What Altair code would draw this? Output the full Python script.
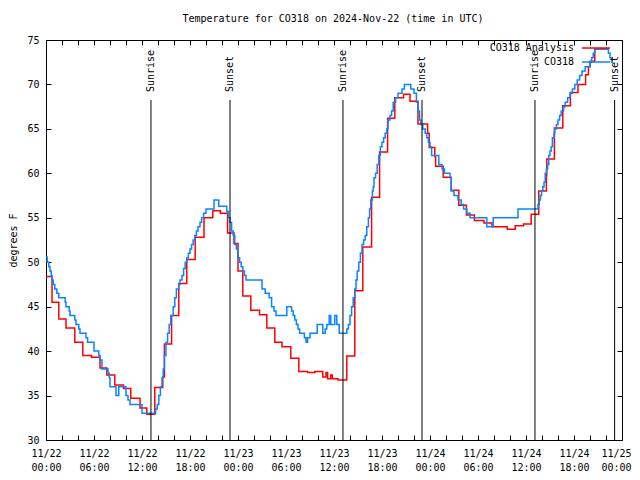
import altair as alt
import pandas as pd

MONO = "DejaVu Sans Mono"
RED = "#ff0000"
BLUE = "#0a84ff"

TITLE = "Temperature for CO318 on 2024-Nov-22 (time in UTC)"

# Hours since 2024-11-22 00:00 UTC; value holds until the next time (step-after)
ana_hours = [0.0, 0.75, 1.6, 2.5, 3.6, 4.6, 5.7, 6.75, 7.6, 8.6, 9.7, 10.6, 11.75, 12.6,
             13.6, 14.6, 14.8, 15.7, 16.6, 17.6, 18.65, 19.75, 20.85, 21.8, 22.7, 23.5,
             24.0, 24.6, 25.6, 26.7, 27.6, 28.6, 29.5, 30.6, 31.6, 32.7, 33.6, 34.6, 35.0,
             35.2, 35.6, 35.8, 36.5, 37.6, 38.6, 39.6, 40.7, 41.7, 42.7, 43.6, 44.7, 45.5,
             46.5, 47.7, 47.9, 48.6, 48.7, 49.65, 50.65, 51.6, 52.55, 53.55, 54.75, 55.75,
             57.65, 58.65, 59.7, 60.65, 61.6, 62.55, 62.6, 63.55, 64.6, 65.55, 66.5, 67.45,
             67.8, 68.0, 68.6, 70.3]
ana_temps = [48.4, 45.5, 43.6, 42.6, 41.0, 39.5, 39.3, 38.1, 37.3, 36.2, 35.8, 34.7, 33.6, 32.9,
             35.9, 37.1, 40.8, 44.0, 47.6, 50.3, 52.8, 55.0, 55.8, 55.5, 53.3, 52.1,
             49.0, 46.2, 44.6, 44.1, 42.6, 41.0, 40.5, 39.2, 37.7, 37.6, 37.7, 37.1, 37.6,
             36.9, 37.3, 36.9, 36.75, 39.45, 46.8, 51.7, 57.3, 62.4, 66.2, 68.5, 68.9, 68.1,
             65.55, 64.5, 62.9, 61.9, 60.8, 59.55, 58.1, 56.4, 55.3, 54.7, 54.4, 54.0,
             53.7, 54.1, 54.3, 55.4, 58.0, 59.8, 61.6, 65.1, 67.6, 69.1, 70.0, 71.1,
             72.0, 72.6, 74.0, 74.0]

obs_hours = [0.0, 0.15, 0.35, 0.5, 0.65, 0.75, 0.9, 1.1, 1.35, 1.6, 2.4, 2.5, 2.9, 3.0, 3.6,
             3.75, 4.1, 4.25, 5.0, 5.2, 6.0, 6.6, 6.75, 7.0, 7.75, 7.9, 8.0, 8.75, 9.1, 10.0,
             10.25, 10.5, 12.0, 13.7, 13.9, 14.1, 14.3, 14.5, 14.65, 14.8, 15.0, 15.2, 15.4,
             15.6, 15.9, 16.1, 16.3, 16.6, 16.75, 17.0, 17.2, 17.4, 17.6, 17.8, 18.0, 18.2,
             18.4, 18.6, 18.8, 19.0, 19.25, 19.45, 19.7, 20.0, 21.0, 21.6, 22.6, 22.8, 23.0,
             23.2, 23.4, 23.6, 23.8, 24.0, 24.2, 24.4, 24.6, 24.8, 25.0, 27.0, 27.4, 27.9,
             28.2, 28.5, 28.75, 30.1, 30.7, 30.9, 31.1, 31.3, 31.5, 31.7, 32.3, 32.5, 32.7,
             33.0, 33.9, 34.6, 34.9, 35.1, 35.4, 35.6, 36.1, 36.35, 36.65, 37.6, 37.8, 38.0,
             38.2, 38.4, 38.6, 38.75, 38.9, 39.1, 39.3, 39.5, 39.7, 39.9, 40.1, 40.3, 40.45,
             40.6, 40.8, 40.9, 41.0, 41.2, 41.4, 41.6, 41.8, 42.0, 42.2, 42.4, 42.6, 42.75,
             43.0, 43.2, 43.4, 43.7, 44.0, 44.5, 44.8, 45.6, 46.0, 46.3, 46.5, 46.7, 46.85,
             47.1, 47.4, 47.6, 47.8, 48.0, 48.2, 49.1, 49.5, 49.8, 50.5, 50.65, 51.0, 51.5,
             51.9, 52.2, 52.6, 53.0, 55.1, 55.9, 59.0, 61.5, 61.65, 61.8, 61.95, 62.1, 62.25,
             62.4, 62.55, 62.7, 62.85, 63.0, 63.15, 63.3, 63.5, 63.6, 63.8, 64.0, 64.2, 64.4,
             64.7, 64.9, 65.2, 65.5, 65.8, 66.1, 66.4, 66.7, 67.0, 67.4, 68.0, 68.2, 68.4,
             68.6, 70.3, 70.5, 70.7, 70.8]
obs_temps = [50.6, 50.0, 49.5, 49.0, 48.5, 48.0, 47.5, 47.0, 46.5, 46.0, 45.5, 45.0, 44.5, 44.0, 43.5,
             43.0, 42.5, 42.0, 41.5, 41.0, 40.0, 39.5, 39.0, 38.0, 37.5, 37.0, 36.0, 35.0, 36.0, 35.0,
             34.5, 34.0, 33.0, 33.5, 34.0, 35.0, 36.0, 37.0, 38.0, 39.5, 41.0, 42.0, 43.0,
             44.0, 45.0, 46.0, 47.0, 47.5, 48.0, 48.5, 49.3, 50.0, 50.5, 51.0, 51.5, 52.0,
             52.5, 53.0, 53.5, 54.0, 54.5, 55.0, 55.5, 56.0, 57.0, 56.3, 55.7, 55.0, 54.5,
             53.5, 53.0, 52.0, 51.5, 50.5, 50.0, 49.5, 49.0, 48.5, 48.0, 47.0, 46.5, 46.0,
             45.0, 44.5, 44.0, 45.0, 44.5, 44.0, 43.5, 43.0, 42.5, 42.0, 41.5, 41.0, 41.5,
             42.0, 43.0, 42.0, 42.5, 43.0, 44.0, 43.0, 44.0, 43.0, 42.0, 42.5, 43.0, 44.0,
             45.0, 46.0, 47.0, 48.0, 49.0, 50.0, 51.0, 52.0, 52.5, 53.0, 54.0, 55.0, 56.0,
             57.0, 58.0, 58.5, 59.5, 60.0, 61.0, 62.0, 63.0, 63.5, 64.0, 64.5, 65.0, 66.0,
             66.5, 67.0, 68.0, 68.5, 69.0, 69.5, 70.0, 69.5, 69.0, 68.0, 67.0, 66.0, 65.5,
             65.0, 64.5, 64.0, 63.5, 63.0, 62.0, 61.0, 60.5, 60.0, 59.5, 58.0, 57.5, 57.0,
             56.5, 56.0, 55.5, 55.0, 54.0, 55.0, 56.0, 56.5, 57.0, 57.5, 58.0, 58.5, 59.0,
             60.0, 60.5, 61.0, 62.0, 62.5, 63.0, 64.0, 64.5, 65.0, 65.5, 66.0, 66.5, 67.0,
             67.5, 68.0, 68.5, 69.0, 69.5, 70.0, 70.5, 71.0, 71.5, 72.0, 72.5, 73.0, 73.5,
             74.0, 73.5, 73.0, 72.5, 72.4]

event_hours = [13.12, 23.0, 37.12, 47.0, 61.12, 71.08]
event_labels = ["Sunrise", "Sunset", "Sunrise", "Sunset", "Sunrise", "Sunset"]

x_label_hours = list(range(0, 73, 6))
x_tick_hours = list(range(0, 73, 2))
y_ticks = [30, 35, 40, 45, 50, 55, 60, 65, 70, 75]

legend_names = ["CO318 Analysis", "CO318"]

W, H = 576, 400

ana = pd.DataFrame({"hour": ana_hours, "temp": ana_temps})
obs = pd.DataFrame({"hour": obs_hours, "temp": obs_temps})
events = pd.DataFrame({"hour": event_hours, "label": event_labels})

xscale = alt.Scale(domain=[0, 72], nice=False, zero=False)
yscale = alt.Scale(domain=[30, 75], nice=False, zero=False)

label_expr = ("['11/' + (22 + floor(datum.value / 24)), "
              "(datum.value % 24 < 10 ? '0' : '') + (datum.value % 24) + ':00']")

red = alt.Chart(ana).mark_line(color=RED, strokeWidth=1.5, interpolate="step-after").encode(
    x=alt.X("hour:Q", scale=xscale,
            axis=alt.Axis(orient="bottom", values=x_label_hours, labelExpr=label_expr,
                          ticks=False, tickSize=0, domain=False, grid=False, title=None,
                          labelPadding=8, labelLineHeight=14, labelBaseline="top",
                          labelFlush=False, labelOverlap=False,
                          labelOffset={"condition": {"test": "datum.value == 72", "value": -6},
                                       "value": 0})),
    y=alt.Y("temp:Q", scale=yscale,
            axis=alt.Axis(orient="left", values=y_ticks, ticks=False, tickSize=0,
                          domain=False, grid=False, title="degrees F", labelPadding=7,
                          titleX=-33, titleY=200, titleAlign="center", titleBaseline="middle",
                          labelFlush=False)),
)

blue = alt.Chart(obs).mark_line(color=BLUE, strokeWidth=1.5, interpolate="step-after").encode(
    x=alt.X("hour:Q", scale=xscale,
            axis=alt.Axis(orient="top", offset=-H, values=x_tick_hours, labels=False,
                          ticks=True, tickSize=5, domain=False, grid=False, title=None)),
    y=alt.Y("temp:Q", scale=yscale,
            axis=alt.Axis(orient="right", offset=-W, values=y_ticks, labels=False,
                          ticks=True, tickSize=5, domain=False, grid=False, title=None)),
)

rules = alt.Chart(events).mark_rule(color="black", strokeWidth=1).encode(
    x=alt.X("hour:Q", scale=xscale,
            axis=alt.Axis(orient="bottom", offset=-H, values=x_tick_hours, labels=False,
                          ticks=True, tickSize=5, domain=False, grid=False, title=None)),
    y=alt.value(60),
    y2=alt.value(H),
)

event_text = alt.Chart(events).mark_text(
    angle=270, align="left", baseline="middle", font=MONO, fontSize=10, color="black"
).encode(
    x=alt.X("hour:Q", scale=xscale, axis=None),
    y=alt.value(52),
    text="label:N",
)

yaxis_right = alt.Chart(events).mark_point(opacity=0).encode(
    y=alt.Y("hour:Q", scale=yscale,
            axis=alt.Axis(orient="left", offset=-W, values=y_ticks, labels=False,
                          ticks=True, tickSize=5, domain=False, grid=False, title=None)),
)

title_text = alt.Chart(pd.DataFrame({"t": [TITLE]})).mark_text(
    align="center", baseline="middle", font=MONO, fontSize=10, color="black"
).encode(x=alt.value(W / 2 - 1), y=alt.value(-21), text="t:N")

leg_text1 = alt.Chart(pd.DataFrame({"name": [legend_names[0]]})).mark_text(
    align="right", baseline="middle", font=MONO, fontSize=10, color="black"
).encode(x=alt.value(528), y=alt.value(8), text="name:N")
leg_text2 = alt.Chart(pd.DataFrame({"name": [legend_names[1]]})).mark_text(
    align="right", baseline="middle", font=MONO, fontSize=10, color="black"
).encode(x=alt.value(528), y=alt.value(22), text="name:N")
leg_line1 = alt.Chart(pd.DataFrame({"name": [legend_names[0]]})).mark_rule(
    color=RED, strokeWidth=1.5).encode(x=alt.value(536), x2=alt.value(564), y=alt.value(8))
leg_line2 = alt.Chart(pd.DataFrame({"name": [legend_names[1]]})).mark_rule(
    color=BLUE, strokeWidth=1.5).encode(x=alt.value(536), x2=alt.value(564), y=alt.value(22))

chart = alt.layer(
    red, blue, rules, event_text, yaxis_right, title_text,
    leg_text1, leg_text2, leg_line1, leg_line2
).resolve_axis(x="independent", y="independent").properties(
    width=W, height=H,
    autosize=alt.AutoSizeParams(type="none"),
    padding={"left": 38, "top": 32, "right": 10, "bottom": 36},
).configure_view(stroke="black", strokeWidth=1).configure_axis(
    labelFont=MONO, titleFont=MONO, labelFontSize=10, titleFontSize=10,
    titleFontWeight="normal", labelColor="black", titleColor="black", tickColor="black"
)

chart.save("out.html", embed_options={"renderer": "svg", "actions": False})
